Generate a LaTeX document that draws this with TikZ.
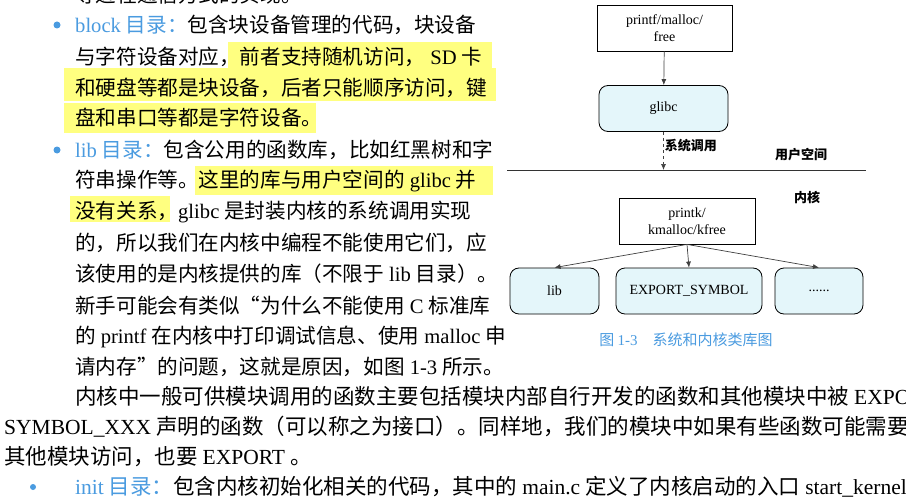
\documentclass[tikz,border=0pt]{standalone}
\usepackage{fontspec}
\setmainfont{Noto Sans CJK SC}
\newfontfamily\lt{Liberation Serif}
\usetikzlibrary{arrows.meta}
\definecolor{hl}{HTML}{FFFF80}
\definecolor{bl}{HTML}{4A9BE0}
\definecolor{cy}{HTML}{E4F6FA}
\tikzset{
  ln/.style={anchor=west,inner sep=0pt,font=\fontsize{20.6}{24}\selectfont},
  lns/.style={anchor=west,inner sep=0pt,font=\fontsize{21.5}{24}\selectfont},
  sq/.style={draw,line width=0.8pt,minimum width=135pt,minimum height=46pt,align=center,font=\lt\fontsize{14}{17}\selectfont},
  rd/.style={draw,line width=0.8pt,rounded corners=9pt,fill=cy,minimum height=46pt,align=center,font=\lt\fontsize{14}{17}\selectfont},
  ar/.style={-{Latex[length=6pt,width=5pt]},line width=0.7pt,draw=black!75},
  lab/.style={font=\bfseries\fontsize{13}{15}\selectfont,inner sep=1pt}
}
\newcommand{\gsp}{\hspace{5pt}}
\newcommand{\lw}[1]{\gsp{\lt #1}\gsp}
\begin{document}
\begin{tikzpicture}[x=1pt,y=-1pt]
\useasboundingbox (0,0) rectangle (906,503);
\fill[white] (0,0) rectangle (906,503);
% highlights
\fill[hl] (228,42) rectangle (492,70);
\fill[hl] (64,68) rectangle (496,101);
\fill[hl] (64,103) rectangle (316,133);
\fill[hl] (195,166) rectangle (493,195);
\fill[hl] (70,196) rectangle (170,222);
% bullets
\fill[bl] (57,25) circle (3.5);
\fill[bl] (57,150) circle (3.5);
\fill[bl] (33,487) circle (3);
% left column text
\node[ln] (t0) at (75,-5) {等进程通信方式的实现。};
\node[ln] (t1) at (75,25) {{\color{bl}{\lt block}\gsp 目录：}包含块设备管理的代码，块设备};
\node[ln] (t2) at (75,57) {与字符设备对应，前者支持随机访问，\lw{SD}卡};
\node[ln] (t3) at (75,88) {和硬盘等都是块设备，后者只能顺序访问，键};
\node[ln] (t4) at (75,118) {盘和串口等都是字符设备。};
\node[ln] (t5) at (75,150) {{\color{bl}{\lt lib}\gsp 目录：}包含公用的函数库，比如红黑树和字};
\node[ln] (t6) at (75,181) {符串操作等。这里的库与用户空间的\lw{glibc}并};
\node[ln] (t7) at (75,212) {没有关系，{\lt glibc}\gsp 是封装内核的系统调用实现};
\node[ln] (t8) at (75,243) {的，所以我们在内核中编程不能使用它们，应};
\node[ln] (t9) at (75,274) {该使用的是内核提供的库（不限于\lw{lib}目录）。};
\node[ln] (t10) at (75,306) {新手可能会有类似“为什么不能使用\lw{C}标准库};
\node[ln] (t11) at (75,337) {的\lw{printf}在内核中打印调试信息、使用\lw{malloc}申};
\node[ln] (t12) at (75,367) {请内存”的问题，这就是原因，如图\lw{1-3}所示。};
% bottom text
\node[lns] (b1) at (75,397) {内核中一般可供模块调用的函数主要包括模块内部自行开发的函数和其他模块中被\lw{EXPORT\_}};
\node[lns] (b2) at (4,427) {{\lt SYMBOL\_XXX}\gsp 声明的函数（可以称之为接口）。同样地，我们的模块中如果有些函数可能需要被};
\node[lns] (b3) at (4,457) {其他模块访问，也要\lw{EXPORT}。};
\node[lns] (b4) at (75,487) {{\color{bl}{\lt init}\gsp 目录：}包含内核初始化相关的代码，其中的\lw{main.c}定义了内核启动的入口\lw{start\_kernel}};
% diagram
\node[sq] (pm) at (664.5,28) {printf/malloc/\\free};
\node[rd,minimum width=129pt] (gl) at (663.5,108.5) {glibc};
\coordinate (lineL) at (507,170);
\coordinate (lineR) at (866,170);
\coordinate (sc) at (663.5,170);
\draw[line width=0.8pt,black!80] (lineL) -- (lineR);
\draw[ar] (pm) -- (gl);
\draw[ar,dashed] (gl) -- node[lab,right,pos=0.35]{系统调用} (sc);
\node[lab] (us) at (801,155) {用户空间};
\node[lab] (nk) at (807,197) {内核};
\node[sq,minimum width=136pt] (pk) at (687,221) {printk/\\kmalloc/kfree};
\node[rd,minimum width=89pt] (lib) at (554.5,291) {lib};
\node[rd,minimum width=146pt] (ex) at (689,291) {EXPORT\_SYMBOL};
\node[rd,minimum width=88pt] (dt) at (819,291) {......};
\draw[ar] (pk.south) -- (lib.north);
\draw[ar] (pk.south) -- (ex.north);
\draw[ar] (pk.south) -- (dt.north);
\node[font=\fontsize{15}{18}\selectfont,text=bl] (cap) at (686,340) {图 {\lt 1-3}\quad 系统和内核类库图};
\end{tikzpicture}
\end{document}
